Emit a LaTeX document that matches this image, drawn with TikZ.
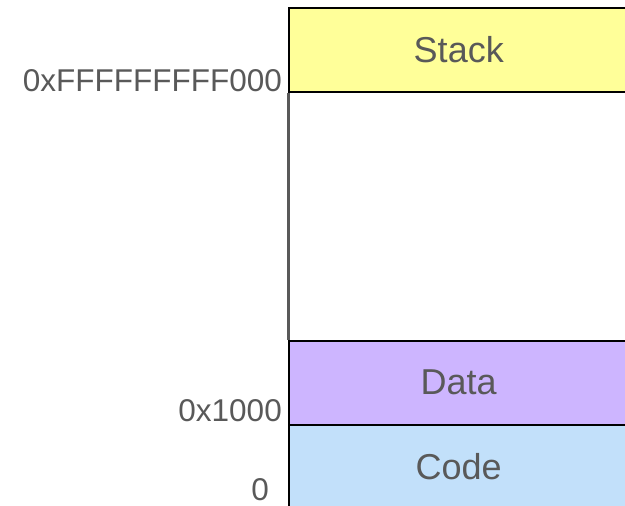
\documentclass[tikz,border=0pt]{standalone}
\usepackage{fontspec}
\setmainfont{Liberation Sans}

\begin{document}
\begin{tikzpicture}[x=1pt,y=-1pt,
  segment/.style={draw=black,line width=1.5pt,inner sep=0pt,anchor=north west,
    minimum width=340pt,minimum height=84pt,text=textgray,font=\fontsize{36}{43}\selectfont},
  addr/.style={anchor=base east,inner sep=0pt,text=textgray,font=\fontsize{31.5}{38}\selectfont}]
\definecolor{textgray}{HTML}{595959}
\definecolor{stackyellow}{HTML}{FFFF99}
\definecolor{datapurple}{HTML}{CDB5FF}
\definecolor{codeblue}{HTML}{C2E0FA}
\clip (0,0) rectangle (625,506);
  \foreach \seg/\ypos/\clr in {Stack/7/stackyellow,Data/340/datapurple,Code/424/codeblue}
  {  \node [segment,fill=\clr] (\seg) at (288,\ypos) {\seg};}
\draw [textgray,line width=3pt] (Stack.south west) -- (Data.north west);
  \foreach \addr/\xpos/\ypos/\nm in {0xFFFFFFFFF000/282/91/top,0x1000/282/421/mid,0/269/500/zero}
  {  \node [addr] (\nm) at (\xpos,\ypos) {\addr};}
\end{tikzpicture}
\end{document}
